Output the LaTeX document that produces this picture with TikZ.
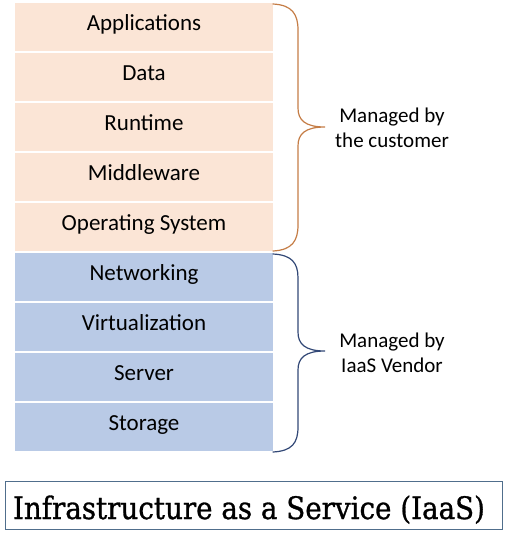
\documentclass[tikz,border=0pt]{standalone}
\usepackage{fontspec}
\setmainfont{Carlito}
\newfontfamily\titlefont[FakeBold=1]{DejaVu Serif}
\definecolor{peach}{RGB}{251,229,214}
\definecolor{lblue}{RGB}{185,202,230}
\definecolor{obrace}{RGB}{197,125,70}
\definecolor{bbrace}{RGB}{50,72,118}
\definecolor{tborder}{RGB}{80,110,140}
\tikzset{
  rowtext/.style={anchor=base, font=\fontsize{23}{26}\selectfont, text=black, inner sep=0pt},
  sidetext/.style={align=center, font=\fontsize{21}{25}\selectfont, inner sep=0pt, anchor=base},
  bracepath/.style={line width=1.2pt, line cap=round}
}
\begin{document}
\begin{tikzpicture}[x=1pt,y=-1pt]
\useasboundingbox (0,0) rectangle (506,533);
% rows
\foreach \i/\t/\c in {0/Applications/peach,1/Data/peach,2/Runtime/peach,3/Middleware/peach,4/Operating System/peach,5/Networking/lblue,6/Virtualization/lblue,7/Server/lblue,8/Storage/lblue}{
  \fill[\c] (15,{3+50*\i}) rectangle (273,{3+50*\i+48});
  \node[rowtext] (r\i) at (144,{30+50*\i}) {\t};
}
% braces
\coordinate (ot) at (273,4);
\coordinate (ob) at (273,251);
\coordinate (otip) at (325,127);
\draw[bracepath, obrace] (ot) .. controls (292,5) and (298,14) .. (298,30)
  -- (298,108) .. controls (298,120) and (305,127) .. (otip)
  .. controls (305,127) and (298,134) .. (298,146)
  -- (298,225) .. controls (298,241) and (292,250) .. (ob);
\coordinate (bt) at (273,254);
\coordinate (bb) at (273,452);
\coordinate (btip) at (325,351);
\draw[bracepath, bbrace] (bt) .. controls (292,255) and (298,263) .. (298,278)
  -- (298,332) .. controls (298,344) and (305,351) .. (btip)
  .. controls (305,351) and (298,358) .. (298,370)
  -- (298,427) .. controls (298,443) and (292,451) .. (bb);
% side labels
\node[sidetext] (cust) at (392,147) {Managed by\\the customer};
\node[sidetext] (vend) at (392,372.5) {Managed by\\IaaS Vendor};
% title
\draw[tborder, line width=1pt] (5,481) rectangle (502,529);
\node[anchor=base, inner sep=0pt] (title) at (249,519) {\resizebox{472pt}{23.5pt}{\titlefont\fontsize{30}{34}\selectfont Infrastructure as a Service (IaaS)}};
\end{tikzpicture}
\end{document}
